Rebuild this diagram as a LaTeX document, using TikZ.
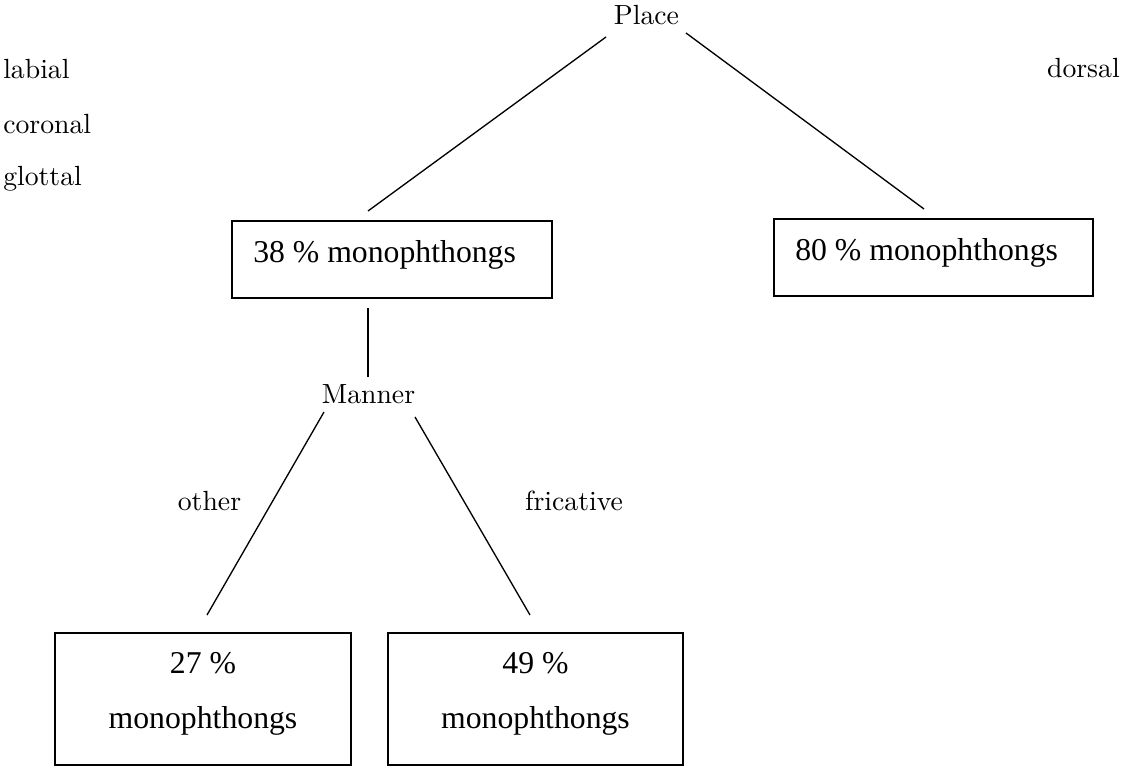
\documentclass[tikz,border=0pt]{standalone}
\usepackage{fontspec}
\newfontfamily\timesf{Liberation Serif}
\newfontfamily\lblfont{lmroman10-regular}[Extension=.otf]
\tikzset{
  lbl/.style={inner sep=0pt, font=\lblfont\fontsize{20.8pt}{25pt}\selectfont},
  boxtext/.style={inner sep=0pt, font=\timesf\fontsize{23.8pt}{28pt}\selectfont},
  box/.style={draw, line width=1.1pt, rectangle, inner sep=0pt},
  conn/.style={line width=1pt}
}
\begin{document}
\begin{tikzpicture}[x=0.75pt,y=-0.75pt]
\useasboundingbox (0,0) rectangle (1123,767);
% labels
\node[lbl, anchor=base] (place) at (646.5,25) {Place};
\node[lbl, anchor=base west] (labial) at (3,79) {labial};
\node[lbl, anchor=base west] (coronal) at (3,133) {coronal};
\node[lbl, anchor=base west] (glottal) at (3,185) {glottal};
\node[lbl, anchor=base east] (dorsal) at (1120,78) {dorsal};
\node[lbl, anchor=base] (manner) at (368.5,403) {Manner};
\node[lbl, anchor=base] (other) at (209.5,510) {other};
\node[lbl, anchor=base] (fricative) at (574,510) {fricative};
% boxes
\node[box, minimum width=240pt, minimum height=57.75pt] (b38) at (392,259.5) {};
\node[boxtext, anchor=base west] (t38) at (253,262) {38 \% monophthongs};
\node[box, minimum width=239.25pt, minimum height=57.75pt] (b80) at (933.5,257.5) {};
\node[boxtext, anchor=base west] (t80) at (795,260) {80 \% monophthongs};
\node[box, minimum width=222pt, minimum height=99pt] (b27) at (203,699) {};
\node[boxtext, anchor=base] (t27a) at (203,673) {27 \%};
\node[boxtext, anchor=base] (t27b) at (203,728) {monophthongs};
\node[box, minimum width=221.25pt, minimum height=99pt] (b49) at (535.5,699) {};
\node[boxtext, anchor=base] (t49a) at (535.5,673) {49 \%};
\node[boxtext, anchor=base] (t49b) at (535.5,728) {monophthongs};
% connector end points
\coordinate (place-l) at (606,37);
\coordinate (place-r) at (686,33);
\coordinate (b38-top) at (368,211);
\coordinate (b80-top) at (924,209);
\coordinate (b38-bot) at (368,308);
\coordinate (manner-top) at (368,377);
\coordinate (manner-l) at (324,412);
\coordinate (manner-r) at (415,417);
\coordinate (b27-top) at (207,615);
\coordinate (b49-top) at (530,615);
% connectors
\draw[conn] (place-l) -- (b38-top);
\draw[conn] (place-r) -- (b80-top);
\draw[conn] (b38-bot) -- (manner-top);
\draw[conn] (manner-l) -- (b27-top);
\draw[conn] (manner-r) -- (b49-top);
\end{tikzpicture}
\end{document}
